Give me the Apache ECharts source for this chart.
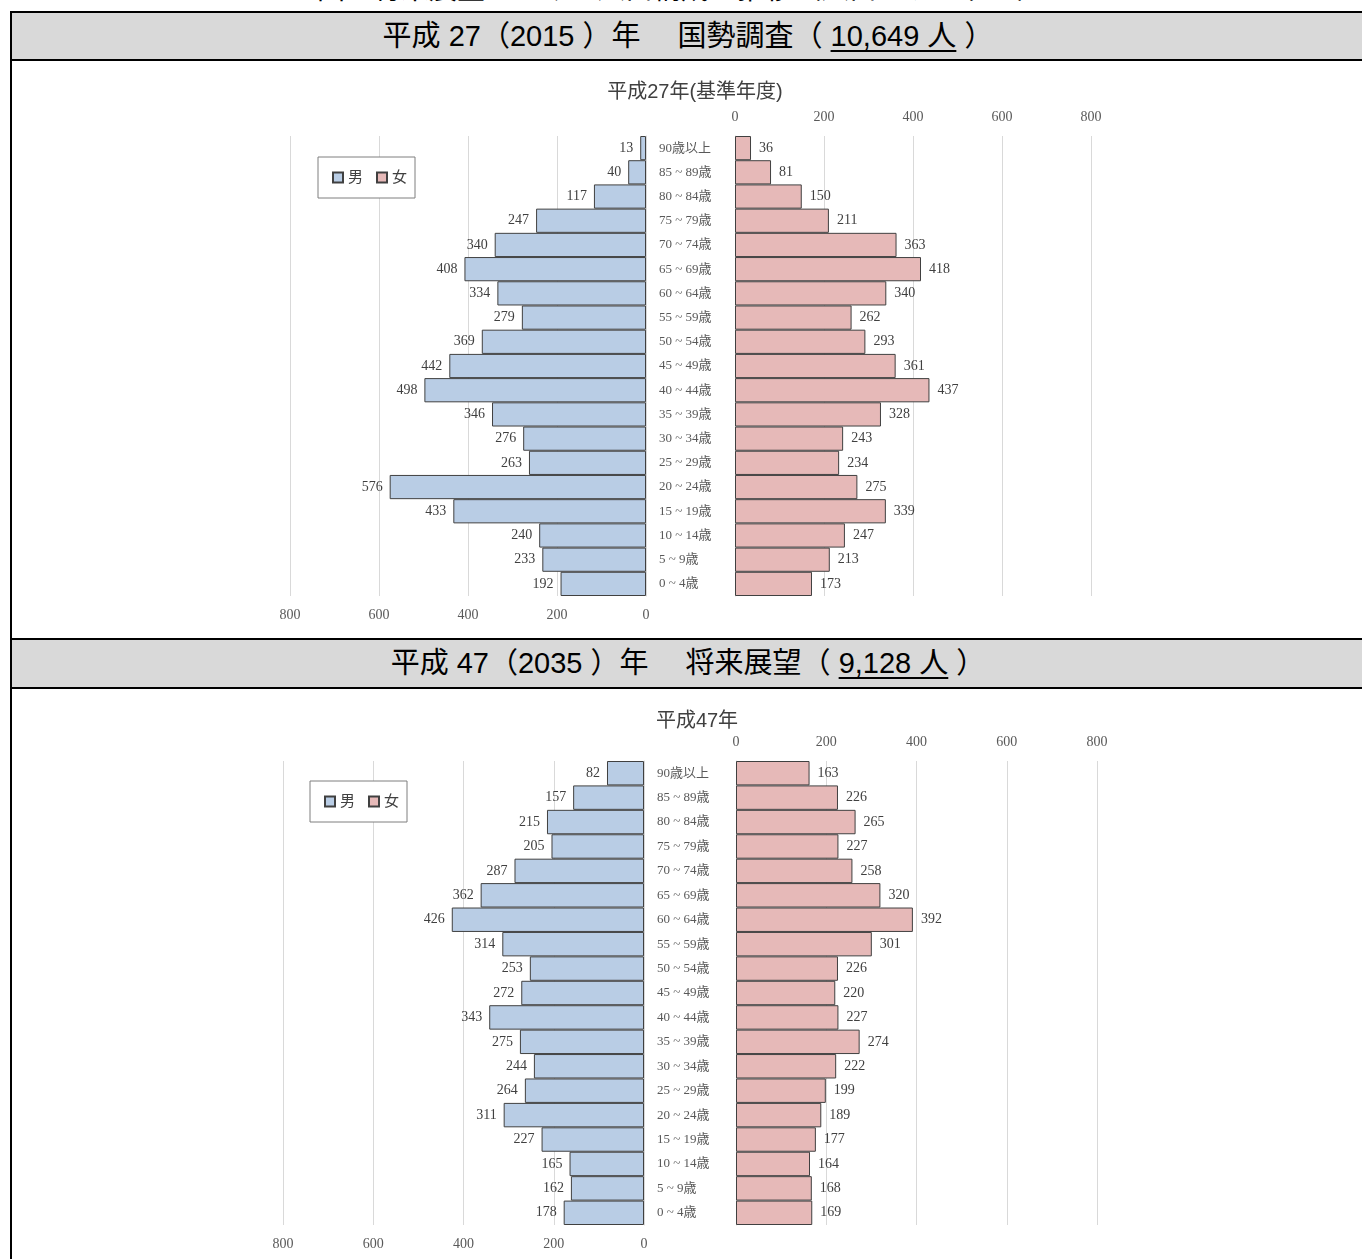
<!DOCTYPE html>
<html lang="ja">
<head>
<meta charset="utf-8">
<script src="https://cdn.jsdelivr.net/npm/echarts@6/dist/echarts.min.js"></script>
<style>
  html, body { margin: 0; padding: 0; background: #fff; }
  body { width: 1362px; height: 1259px; position: relative; overflow: hidden;
         font-family: "Liberation Sans", "Noto Sans CJK JP", sans-serif; }
  .cut { position: absolute; left: 0; width: 1362px; top: -25px; text-align: center;
         font-size: 28px; line-height: 30px; color: #000; white-space: nowrap; }
  .frame { position: absolute; left: 10px; top: 11px; width: 1400px; height: 1300px;
           border-left: 2px solid #000; }
  .band { position: absolute; left: 10px; width: 1352px; background: #d9d9d9;
          border-top: 2px solid #000; border-bottom: 2px solid #000; border-left: 2px solid #000;
          text-align: center; color: #000; font-size: 29px; white-space: pre; }
  .band u { text-decoration: underline; text-underline-offset: 4px; text-decoration-thickness: 2px; }
  .chart { position: absolute; left: 0; width: 1362px; }
</style>
</head>
<body>
<div class="cut">図　将来展望における人口構成の推移（人口ピラミッド）</div>
<div class="frame"></div>
<div class="band" id="band1" style="top:11px;height:46px;line-height:46px;"></div>
<div class="chart" id="c1" style="top:61px;height:577px;"></div>
<div class="band" id="band2" style="top:638px;height:47px;line-height:47px;"></div>
<div class="chart" id="c2" style="top:689px;height:570px;"></div>
<script>
// ---- data ----
const ageGroups = ['90歳以上','85 ~ 89歳','80 ~ 84歳','75 ~ 79歳','70 ~ 74歳','65 ~ 69歳','60 ~ 64歳','55 ~ 59歳','50 ~ 54歳','45 ~ 49歳','40 ~ 44歳','35 ~ 39歳','30 ~ 34歳','25 ~ 29歳','20 ~ 24歳','15 ~ 19歳','10 ~ 14歳','5 ~ 9歳','0 ~ 4歳'];
const male2015   = [13, 40, 117, 247, 340, 408, 334, 279, 369, 442, 498, 346, 276, 263, 576, 433, 240, 233, 192];
const female2015 = [36, 81, 150, 211, 363, 418, 340, 262, 293, 361, 437, 328, 243, 234, 275, 339, 247, 213, 173];
const male2035   = [82, 157, 215, 205, 287, 362, 426, 314, 253, 272, 343, 275, 244, 264, 311, 227, 165, 162, 178];
const female2035 = [163, 226, 265, 227, 258, 320, 392, 301, 226, 220, 227, 274, 222, 199, 189, 177, 164, 168, 169];
const axisTicks = [0, 200, 400, 600, 800];
const seriesNames = ['男', '女'];
const bandTitles = ['平成 27（2015 ）年　 国勢調査（ ', '平成 47（2035 ）年　 将来展望（ '];
const bandTotals = ['10,649 人', '9,128 人'];
const chartTitles = ['平成27年(基準年度)', '平成47年'];

document.getElementById('band1').innerHTML = bandTitles[0] + '<u>' + bandTotals[0] + '</u> ）';
document.getElementById('band2').innerHTML = bandTitles[1] + '<u>' + bandTotals[1] + '</u> ）';

const SERIF = '"Liberation Serif", "Noto Sans CJK JP", serif';
const SANS = '"Liberation Sans", "Noto Sans CJK JP", sans-serif';
const MALE = '#b9cde5', FEMALE = '#e6b9b8', EDGE = '#404040', GRID = '#d9d9d9';

function build(el, cfg) {
  const chart = echarts.init(el, null, { renderer: 'canvas' });
  const tmin = axisTicks[0], tmax = axisTicks[axisTicks.length - 1], tint = axisTicks[1] - axisTicks[0];
  const valAxis = (gridIndex, inverse, position) => ({
    type: 'value', gridIndex, min: tmin, max: tmax, interval: tint, inverse, position,
    axisLine: { show: false }, axisTick: { show: false },
    axisLabel: { margin: 12, fontFamily: SERIF, fontSize: 14, color: '#595959' },
    splitLine: { show: true, lineStyle: { color: GRID, width: 1 } }
  });
  chart.setOption({
    animation: false,
    title: { text: cfg.title, left: cfg.titleX, top: cfg.titleY, textAlign: 'center',
      textStyle: { fontFamily: SANS, fontSize: 20, fontWeight: 'normal', color: '#404040' } },
    legend: {
      data: seriesNames, left: cfg.legendLeft, top: cfg.legendTop, orient: 'horizontal',
      backgroundColor: '#fff', borderColor: '#7f7f7f', borderWidth: 1,
      padding: [13, 8, 13, 14], itemGap: 13, itemWidth: 10, itemHeight: 10, icon: 'rect',
      textStyle: { fontFamily: SANS, fontSize: 15, color: '#404040' }
    },
    grid: [
      { left: cfg.lgLeft, top: cfg.top, width: cfg.w1, height: cfg.h },
      { left: cfg.rgLeft, top: cfg.top, width: cfg.w2, height: cfg.h }
    ],
    xAxis: [ valAxis(0, true, 'bottom'), valAxis(1, false, 'top') ],
    yAxis: [
      { type: 'category', gridIndex: 0, data: ageGroups, inverse: true, position: 'right',
        axisLine: { show: true, lineStyle: { color: GRID } }, axisTick: { show: false },
        axisLabel: { margin: 13, align: 'left', fontFamily: SERIF, fontSize: 13, color: '#595959' } },
      { type: 'category', gridIndex: 1, data: ageGroups, inverse: true, position: 'left',
        axisLine: { show: true, lineStyle: { color: GRID } }, axisTick: { show: false },
        axisLabel: { show: false } }
    ],
    series: [
      { name: seriesNames[0], type: 'bar', xAxisIndex: 0, yAxisIndex: 0, data: cfg.male,
        barCategoryGap: '0%', itemStyle: { color: MALE, borderColor: EDGE, borderWidth: 1 },
        label: { show: true, position: 'left', distance: 7, fontFamily: SERIF, fontSize: 14, color: '#404040' } },
      { name: seriesNames[1], type: 'bar', xAxisIndex: 1, yAxisIndex: 1, data: cfg.female,
        barCategoryGap: '0%', itemStyle: { color: FEMALE, borderColor: EDGE, borderWidth: 1 },
        label: { show: true, position: 'right', distance: 8, fontFamily: SERIF, fontSize: 14, color: '#404040' } }
    ]
  });
}

build(document.getElementById('c1'), {
  title: chartTitles[0], titleX: 690, titleY: 16,
  legendLeft: 318, legendTop: 96,
  lgLeft: 290, w1: 356, rgLeft: 735, w2: 356, top: 75, h: 460,
  male: male2015, female: female2015
});
build(document.getElementById('c2'), {
  title: chartTitles[1], titleX: 692, titleY: 17,
  legendLeft: 310, legendTop: 92,
  lgLeft: 283, w1: 361, rgLeft: 736, w2: 361, top: 72, h: 464,
  male: male2035, female: female2035
});
</script>
</body>
</html>
